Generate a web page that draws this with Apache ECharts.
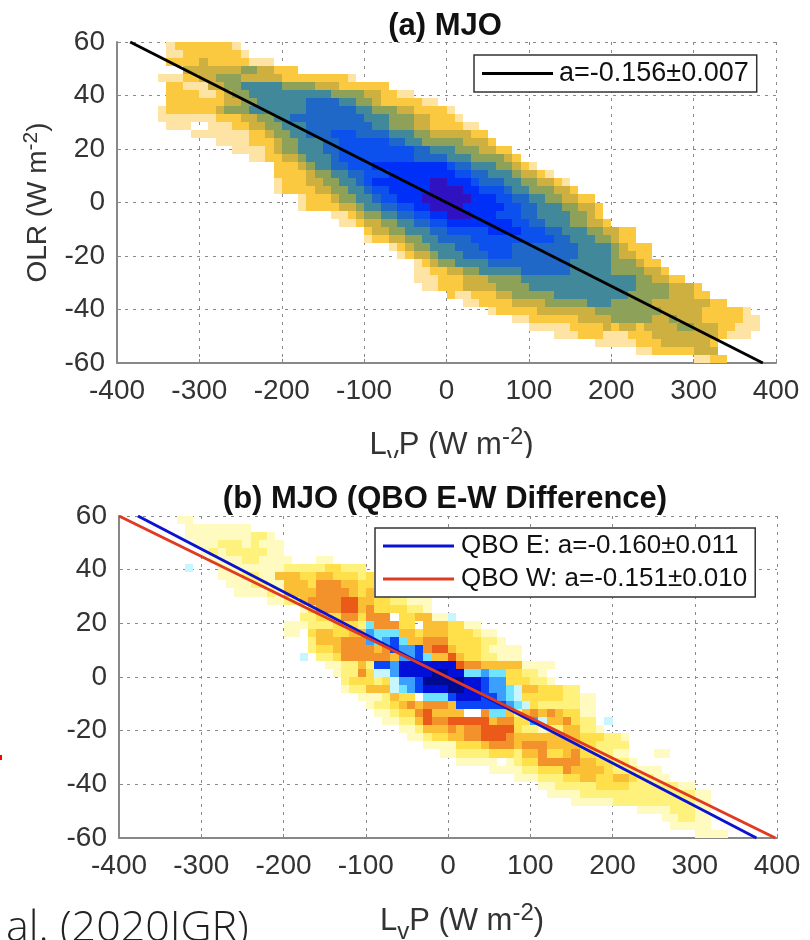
<!DOCTYPE html>
<html>
<head>
<meta charset="utf-8">
<style>html,body{margin:0;padding:0;background:#fff}#c{width:810px;height:940px}</style>
<script src="https://cdn.jsdelivr.net/npm/echarts@6/dist/echarts.min.js"></script>
</head>
<body>
<div id="c"></div>
<script>
// Each row: [index of first 10 W/m2 LvP bin, density level per bin]. Rows run from OLR 60 downward in 3 W/m2 bins.
const mjoRows = [
[6,"122222221"],[6,"1122222221"],[6,"2222322222111"],[8,"33333334433222"],
[5,"111223344433333222222221"],[6,"221113344555554444333222222"],[6,"222211234455555555554444332211"],
[6,"222222233445555556666554432222211"],[5,"122222234445555555666666554443322221"],
[5,"1111111222334455666666666555444332221"],[6,"111..111223344555666666665544433222211"],
[9,"111111122344556667776666555443333322"],[12,"1111222344555667777776655444443332"],
[14,"1111234455566777777777665554443322"],[16,"112233455567777777776666555444432"],
[19,"22234556677788888888876655544321"],[19,"2222344556677788888888776655543321"],
[19,"122233445567888888899888766655443321"],[19,"1222233445567788888999988777655444332"],
[22,"122234455677888999999888776655443322"],[22,"1222233455667788999988888776655544332"],
[26,"112344556677889998887776655554432"],[27,"112334455667788888888776655544332"],
[30,"233445556677777888877766555443322"],[30,"122334455666677777777776655544322"],
[33,"12344555666777766666666555543222"],[34,"1233455566677766666666555543322"],
[36,"123445555666666666655555444322"],[36,"1122334455555666666555554444332"],
[36,"111222333444455555555555555443322"],[37,"1122233334444555555555555544443332"],
[40,"21122233444445555555554444433322"],[42,"11222233334444455544444333333322"],
[45,"12222233333334444444433333222221"],[48,"112222223333444443343332222211"],
[50,"1111122223233233334433322111"],[53,"111222111222333333332111"],
[58,"111112223333332"],[63,"1122222333"],[70,"1122"]
];
const diffRows = [
[7,"11"],[8,"11111111"],[8,"11111111221"],[9,"11122212111"],[10,"1212222211"],[11,"1111221111...11"],
[8,"a...111111112222233222"],[12,"1112211444334433323"],[13,"111221144435554433"],[14,"11112144445555434"],
[18,"11224555566443322111"],[22,"1355566453333221"],[22,"22333553555.334411a"],[20,"1112223332b55533.4443311"],
[20,"11.3443344cbbb443444333211"],[23,"2444555cbcdb445553333221"],[23,"2334555545dccd566433321111"],
[22,"a.2235555554ccdb44643322111"],[25,"112242ddceeeeeee655444441111"],[26,"12253aaceeeeffeebbcbb33221"],
[27,"233323accdfffffeedcc333221"],[27,"122444abcdeeeffeedccba4433322"],[29,"1112433.bbbdeeeddcba333332211"],
[30,"12234545554ddddddcba32222211"],[31,"11233564444..5bb42454543311"],[32,"112246556666645533ca445322.a"],
[34,"1124445455666632212244221"],[35,"112334455666544444444333221"],[37,"1111333455545554444332222"],
[39,"11222233324453345332211...11"],[41,"11111.1233555554433221"],[45,"111122333544443222111"],
[48,"1112223344334432211"],[51,"1122222333322222211"],[52,"11112222222222222211"],[55,"11111222222222211"],
[63,"111122211"],[66,"112211"],[67,"11111"],[70,"1111"]
];
const mjoColors = {1:"#fde4a4",2:"#fac93f",3:"#cdb040",4:"#8ea158",5:"#41899a",6:"#2068c8",7:"#0c50ee",8:"#0030f8",9:"#3012c0"};
const diffColors = {1:"#fffbc0",2:"#fff27c",3:"#ffe04a",4:"#fbbf35",5:"#f3922a",6:"#ec5a1a",a:"#c8f6ff",b:"#70e4ff",c:"#3a9fff",d:"#0a46f5",e:"#0010d8",f:"#000a90"};
const fitA = [[-384,60],[384,-60]];
const fitE = [[-377,60],[375,-60]];
const fitW = [[-400,60],[398,-60]];
const nameA = "a=-0.156\u00B10.007";
const nameE = "QBO E: a=-0.160\u00B10.011";
const nameW = "QBO W: a=-0.151\u00B10.010";
const titleA = "(a) MJO";
const titleB = "(b) MJO (QBO E-W Difference)";
const citation = "al. (2020JGR)";

const FONT = '"Liberation Sans", Arial, sans-serif';
function cells(rows){
  const out=[];
  rows.forEach((row,r)=>{
    const s=row[1];
    for(let i=0;i<s.length;i++){
      if(s[i]!=='.') out.push([-400+10*(row[0]+i),60-3*r,s[i]]);
    }
  });
  return out;
}
function heat(rows,colors,idx){
  return {type:'custom',xAxisIndex:idx,yAxisIndex:idx,silent:true,z:1,clip:true,
    encode:{x:0,y:1},data:cells(rows),
    renderItem:function(p,api){
      const a=api.coord([api.value(0),api.value(1)]);
      const b=api.coord([api.value(0)+10,api.value(1)-3]);
      const x=Math.round(a[0]),y=Math.round(a[1]);
      const row=rows[(60-api.value(1))/3];
      return {type:'rect',shape:{x:x,y:y,width:Math.round(b[0])-x,height:Math.round(b[1])-y},
        style:{fill:colors[row[1][(api.value(0)+400)/10-row[0]]]}};
    }};
}
function line(name,data,color,idx,w){
  return {type:'line',name:name,data:data,xAxisIndex:idx,yAxisIndex:idx,showSymbol:false,symbol:'none',silent:true,z:5,
    clip:false,lineStyle:{color:color,width:w},itemStyle:{color:color}};
}
const gridLine={show:true,lineStyle:{color:'#8a8a8a',type:[3,5],width:1}};
const richName={
  n:{fontFamily:FONT,fontSize:31,color:'#333'},
  sub:{fontFamily:FONT,fontSize:24,color:'#333',padding:[22,0,0,0]},
  sup:{fontFamily:FONT,fontSize:24,color:'#333',padding:[0,0,16,0]}
};
function xA(idx,name,gap,size,shift){
  return {type:'value',gridIndex:idx,min:-400,max:400,interval:100,
    name:name,nameLocation:'middle',nameGap:gap,nameTextStyle:{rich:richName,padding:[0,0,0,shift]},
    axisLine:{show:true,onZero:false,lineStyle:{color:'#888',width:2}},
    axisTick:{show:true,inside:true,length:4,lineStyle:{color:'#888'}},
    axisLabel:{color:'#333',fontFamily:FONT,fontSize:size,margin:14,showMinLabel:true,showMaxLabel:true},
    splitLine:gridLine};
}
function yA(idx,name,gap,size){
  return {type:'value',gridIndex:idx,min:-60,max:60,interval:20,
    name:name,nameLocation:'middle',nameGap:gap,nameRotate:90,nameTextStyle:{rich:{n:{fontFamily:FONT,fontSize:28,color:'#333'},sup:{fontFamily:FONT,fontSize:21,color:'#333',padding:[0,0,14,0]}}},
    axisLine:{show:true,onZero:false,lineStyle:{color:'#888',width:2}},
    axisTick:{show:true,inside:true,length:4,lineStyle:{color:'#888'}},
    axisLabel:{color:'#333',fontFamily:FONT,fontSize:size,margin:12,padding:[4,0,0,0],showMinLabel:true,showMaxLabel:true},
    splitLine:gridLine};
}
const legendBase={orient:'vertical',backgroundColor:'#fff',borderColor:'#333',borderWidth:1.5,icon:'rect',
  itemWidth:71,itemHeight:3,itemGap:7,padding:[5,8,5,8],z:10,selectedMode:false};
const legendText=(s,p)=>({fontFamily:FONT,fontSize:s,color:'#111',padding:[0,0,0,p]});
const option={
  animation:false,backgroundColor:'#fff',
  title:[
    {text:titleA,left:440,textAlign:'center',top:6,textStyle:{fontFamily:FONT,fontSize:31,fontWeight:'bold',color:'#111'}},
    {text:titleB,left:440,textAlign:'center',top:479,textStyle:{fontFamily:FONT,fontSize:31,fontWeight:'bold',color:'#111'}}
  ],
  grid:[{left:117,top:42,width:659,height:321,outerBoundsMode:'none'},{left:119,top:516,width:658,height:322,outerBoundsMode:'none'}],
  xAxis:[xA(0,'{n|L}{sub|v}{n|P (W m}{sup|-2}{n|)}',59,28,10),xA(1,'{n|L}{sub|v}{n|P (W m}{sup|-2}{n|)}',60,28,28)],
  yAxis:[yA(0,'{n|OLR (W m}{sup|-2}{n|)}',61,28),yA(1,'',0,28)],
  legend:[
    Object.assign({},legendBase,{data:[nameA],left:474,top:55,textStyle:legendText(27,1)}),
    Object.assign({},legendBase,{data:[nameE,nameW],left:375,top:528,textStyle:legendText(26,2)})
  ],
  series:[
    heat(mjoRows,mjoColors,0),heat(diffRows,diffColors,1),
    line(nameA,fitA,'#000',0,3),
    line(nameE,fitE,'#0a14d0',1,3),
    line(nameW,fitW,'#e03a20',1,3)
  ],
  graphic:[
    {type:'rect',shape:{x:0,y:755,width:2,height:5},style:{fill:'#f00'},silent:true},
    {type:'rect',shape:{x:340,y:458,width:220,height:14},style:{fill:'#fff'},silent:true,z:100},
    {type:'text',left:6,top:907,style:{text:citation,fontFamily:'"Open Sans"',fontWeight:300,fontSize:43,fill:'#222'},silent:true}
  ]
};
const chart=echarts.init(document.getElementById('c'),null,{renderer:'canvas',width:810,height:940});
chart.setOption(option);
</script>
</body>
</html>
